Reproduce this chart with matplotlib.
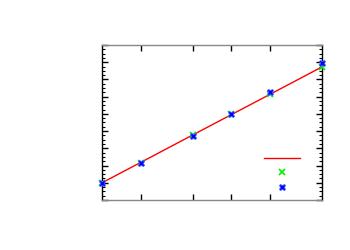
import matplotlib
matplotlib.use("Agg")
import matplotlib.pyplot as plt
from matplotlib.ticker import FixedLocator, MultipleLocator, NullFormatter, NullLocator

x_vals = [10, 20, 50, 100, 200, 500]
fit_y = [1.0, 2.19, 3.77, 4.96, 6.15, 7.73]
green_y = [0.98, 2.17, 3.76, 4.98, 6.15, 7.71]
blue_y = [1.0, 2.15, 3.74, 5.0, 6.26, 7.98]
x_ticks = [20, 50, 100, 200]

fig = plt.figure(figsize=(3.5, 2.5), dpi=100)
ax = fig.add_axes([0.2914, 0.2, 0.6286, 0.62])

ax.plot(x_vals, fit_y, color="#ff0000", lw=1.0, label=" ", zorder=2)
ax.plot(x_vals, green_y, ls="none", marker="x", color="#00ee00", ms=4.5, mew=1.2, label=" ", zorder=3, clip_on=False)
ax.plot(x_vals, blue_y, ls="none", marker="X", color="#0000ff", ms=5, mew=0.6, mec="#4466ff", label=" ", zorder=4, clip_on=False)

ax.set_xscale("log")
ax.set_xlim(10, 500)
ax.set_ylim(0, 9)
ax.xaxis.set_major_locator(FixedLocator(x_ticks))
ax.xaxis.set_minor_locator(NullLocator())
ax.xaxis.set_major_formatter(NullFormatter())
ax.yaxis.set_major_locator(MultipleLocator(1))
ax.yaxis.set_minor_locator(MultipleLocator(0.25))
ax.yaxis.set_major_formatter(NullFormatter())

ax.tick_params(which="both", direction="in", top=True, right=True, color="black")
ax.tick_params(which="major", length=4, width=1)
ax.tick_params(which="minor", length=2, width=0.8)

for side in ["top", "bottom"]:
    ax.spines[side].set_color("#888888")
for side in ["left", "right"]:
    ax.spines[side].set_color("black")
for s in ax.spines.values():
    s.set_linewidth(1.0)

ax.legend(loc="upper left", bbox_to_anchor=(0.736, 0.31), frameon=False,
          handlelength=2.9, labelspacing=0.15, handletextpad=0.2, fontsize=9,
          borderaxespad=0, borderpad=0)

fig.savefig("out.png", dpi=100)
